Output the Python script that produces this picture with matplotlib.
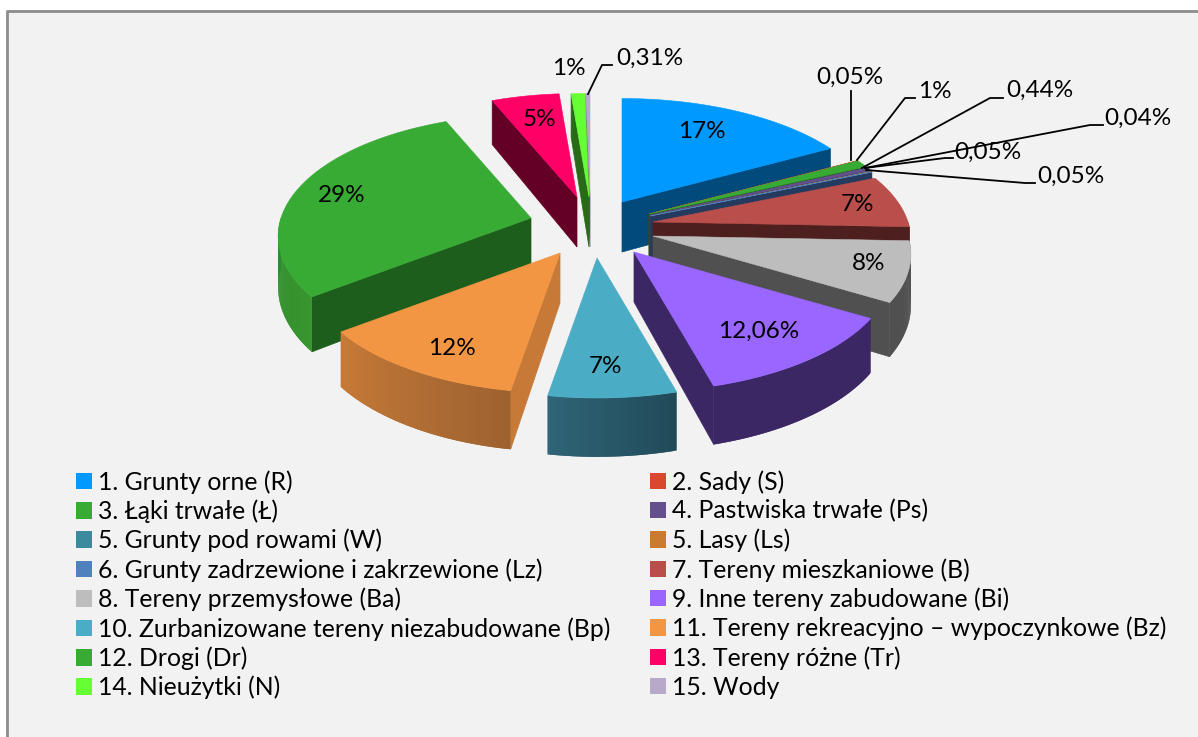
import matplotlib
matplotlib.use('Agg')
import matplotlib.pyplot as plt
from matplotlib.patches import Patch
from matplotlib.colors import to_rgb
import numpy as np

plt.rcParams['font.family'] = ['Lato', 'DejaVu Sans']

# chart data
names = ['1. Grunty orne (R)', '2. Sady (S)', '3. Łąki trwałe (Ł)', '4. Pastwiska trwałe (Ps)',
         '5. Grunty pod rowami (W)', '5. Lasy (Ls)', '6. Grunty zadrzewione i zakrzewione (Lz)',
         '7. Tereny mieszkaniowe (B)', '8. Tereny przemysłowe (Ba)', '9. Inne tereny zabudowane (Bi)',
         '10. Zurbanizowane tereny niezabudowane (Bp)', '11. Tereny rekreacyjno – wypoczynkowe (Bz)',
         '12. Drogi (Dr)', '13. Tereny różne (Tr)', '14. Nieużytki (N)', '15. Wody']
values = [17, 0.05, 1, 0.44, 0.04, 0.05, 0.05, 7, 8, 12.06, 7, 12, 29, 5, 1, 0.31]
labels = ['17%', '0,05%', '1%', '0,44%', '0,04%', '0,05%', '0,05%', '7%', '8%', '12,06%',
          '7%', '12%', '29%', '5%', '1%', '0,31%']

top_colors = ['#0099FF', '#D9492C', '#38AB35', '#65508E', '#3B8A9E', '#CC7A30', '#4F81BD', '#B94E4B',
              '#BDBDBD', '#9966FF', '#4BACC6', '#F39644', '#38AB35', '#FF0066', '#66FF33', '#B7A9C9']
edge_colors = ['#004A7C', '#6A2416', '#1E5E1D', '#3C2A55', '#1F4A55', '#7A4A1C', '#243A5E', '#4D1F1E',
               '#505050', '#3C2765', '#214A58', '#C77A37', '#1E5E1D', '#640026', '#286A18', '#5C5468']
arc_left = ['#004A7C', '#6A2416', '#1E5E1D', '#3C2A55', '#1F4A55', '#7A4A1C', '#243A5E', '#4D1F1E',
            '#505050', '#3C2765', '#2F6577', '#C77A37', '#2E8C2C', '#640026', '#286A18', '#5C5468']
arc_right = ['#004A7C', '#6A2416', '#1E5E1D', '#3C2A55', '#1F4A55', '#7A4A1C', '#243A5E', '#4D1F1E',
             '#505050', '#3C2765', '#214A58', '#9E6230', '#38952F', '#640026', '#286A18', '#5C5468']

# pixel position of each exploded slice's tip
tips = [(622, 202), (649, 214), (649, 214), (650, 215), (650, 216), (650, 216), (650, 216), (653, 222),
        (653, 236), (634, 252), (597, 258), (560, 253), (531, 218), (577, 197), (589, 197), (590, 197)]
# labels drawn on the slices, x/y in pixels
inside_pos = {0: (702, 131), 7: (857, 204), 8: (869, 263), 9: (759, 331), 10: (606, 366),
              11: (452, 348), 12: (342, 195), 13: (539, 119), 14: (569, 68)}
# leader lines for the small slices
leaders = {1: ([851, 851], [91, 160], (850, 77)),
           2: ([857, 905, 915], [160, 98, 98], (935, 91)),
           3: ([862, 990, 1003], [168, 98, 98], (1040, 90)),
           4: ([865, 1090, 1103], [168, 125, 125], (1138, 118)),
           5: ([865, 945, 953], [168, 158, 158], (988, 152)),
           6: ([866, 1025, 1035], [170, 183, 183], (1071, 176)),
           15: ([588, 602, 612], [94, 65, 65], (650, 58))}

RX, RY, DEPTH = 250, 119, 50
PERSP_X, PERSP_Y = 0.15, 0.15
RIGHT_STRETCH = 1.02
LABEL_SIZE = 17.5
draw_order = [0, 1, 2, 3, 4, 5, 6, 7, 8, 9, 15, 14, 13, 12, 11, 10]

edges = np.cumsum([0] + values) / sum(values) * 360


def project(tip, theta):
    t = np.radians(theta)
    sx = 1 / (1 + PERSP_X * np.cos(t))
    sy = 1 / (1 + PERSP_Y * np.cos(t))
    dx = RX * np.sin(t) * sx
    dx = np.where(dx > 0, dx * RIGHT_STRETCH, dx)
    return tip[0] + dx, tip[1] - RY * np.cos(t) * sy, DEPTH * sy


def mix(c1, c2, f):
    a, b = np.array(to_rgb(c1)), np.array(to_rgb(c2))
    return tuple(a + (b - a) * f)


fig = plt.figure(figsize=(11.98, 7.37), dpi=100, facecolor='white')
ax = fig.add_axes([0, 0, 1, 1])
ax.set_xlim(0, 1198)
ax.set_ylim(737, 0)
ax.axis('off')

# chart area
ax.fill([6, 1198, 1198, 6], [10, 10, 737, 737], color='#F2F2F2', lw=0, zorder=0)
ax.plot([7, 7], [737, 11], color='#8C8C8C', lw=2, zorder=1, solid_capstyle='butt')
ax.plot([6, 1198], [11, 11], color='#8C8C8C', lw=2, zorder=1, solid_capstyle='butt')

z = 2
for i in draw_order:
    a0, a1 = edges[i], edges[i + 1]
    tip = tips[i]
    mid = (a0 + a1) / 2
    # straight side face that looks at the viewer
    if mid < 160 or mid > 195:
        ang = a1 if mid < 160 else a0
        ox, oy, od = project(tip, ang)
        ax.fill([tip[0], ox, ox, tip[0]], [tip[1], oy, oy + od, tip[1] + DEPTH],
                color=edge_colors[i], lw=0.5, zorder=z)
    # outer rim, only the part on the near half
    lo, hi = max(a0, 90), min(a1, 270)
    if hi > lo:
        steps = np.linspace(lo, hi, int(hi - lo) * 2 + 2)
        for j in range(len(steps) - 1):
            # each strip reaches over the next one so no seams show
            x0, y0, d0 = project(tip, steps[j])
            x1, y1, d1 = project(tip, steps[min(j + 2, len(steps) - 1)])
            c = mix(arc_right[i], arc_left[i], j / max(len(steps) - 2, 1))
            ax.fill([x0, x1, x1, x0], [y0, y1, y1 + d1, y0 + d0], color=c, lw=0, zorder=z)
    # top face
    th = np.linspace(a0, a1, max(int(a1 - a0) * 2, 2) + 1)
    px, py, _ = project(tip, th)
    ax.fill(np.r_[tip[0], px], np.r_[tip[1], py], color=top_colors[i], lw=0.4, zorder=z + 0.5)
    z += 1

# data labels
for i, pos in inside_pos.items():
    ax.text(pos[0], pos[1], labels[i], fontsize=LABEL_SIZE, ha='center', va='center', color='black', zorder=50)
for i, (lx, ly, pos) in leaders.items():
    ax.plot(lx, ly, color='black', lw=1.3, zorder=49)
    ax.text(pos[0], pos[1], labels[i], fontsize=LABEL_SIZE, ha='center', va='center', color='black', zorder=50)

# legend, filled row by row in the reference
order = list(range(0, 16, 2)) + list(range(1, 16, 2))
handles = [Patch(facecolor=top_colors[i], edgecolor='none', label=names[i]) for i in order]
leg = ax.legend(handles=handles, ncol=2, loc='upper left', bbox_to_anchor=(76 / 1198, 1 - 470 / 737),
                frameon=False, fontsize=17.8, handlelength=0.65, handleheight=0.65, handletextpad=0.25,
                columnspacing=1.6, labelspacing=0.235, borderaxespad=0, borderpad=0)
leg.set_zorder(60)

fig.savefig('out.png', dpi=100, facecolor='white')
